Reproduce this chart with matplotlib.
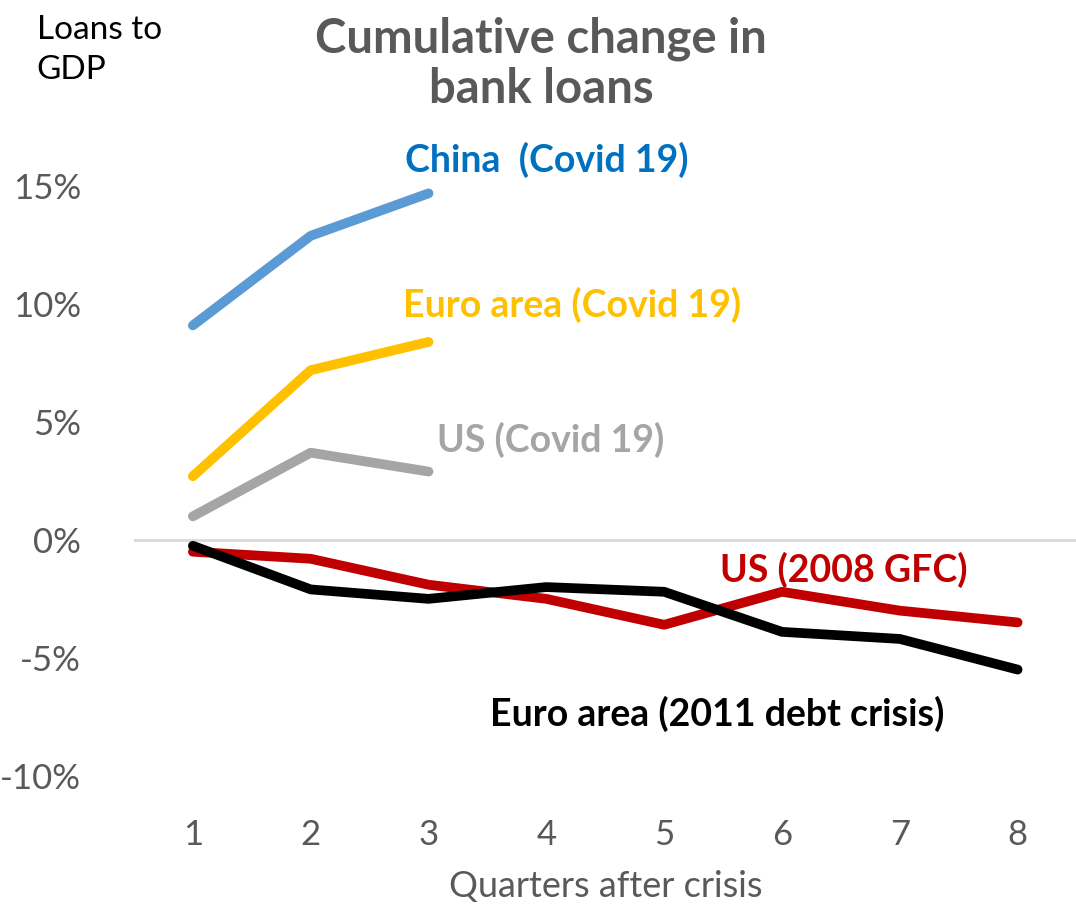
import matplotlib.pyplot as plt

plt.rcParams['font.family'] = ['Lato', 'DejaVu Sans']

quarters = [1, 2, 3, 4, 5, 6, 7, 8]
china_covid = [9.1, 12.9, 14.7]
euro_covid = [2.7, 7.2, 8.4]
us_covid = [1.0, 3.7, 2.9]
us_gfc = [-0.5, -0.8, -1.9, -2.5, -3.6, -2.2, -3.0, -3.5]
euro_2011 = [-0.25, -2.1, -2.5, -2.0, -2.2, -3.9, -4.2, -5.5]
yticks = [-10, -5, 0, 5, 10, 15]

fig = plt.figure(figsize=(10.76, 9.08), dpi=100)
ax = fig.add_axes([0.1245, 0.1068, 0.876, 0.701])

lw = 7
ax.plot(quarters[:3], china_covid, color='#5B9BD5', lw=lw, solid_capstyle='round')
ax.plot(quarters[:3], euro_covid, color='#FFC000', lw=lw, solid_capstyle='round')
ax.plot(quarters[:3], us_covid, color='#A5A5A5', lw=lw, solid_capstyle='round')
ax.plot(quarters, us_gfc, color='#C00000', lw=lw, solid_capstyle='round')
ax.plot(quarters, euro_2011, color='black', lw=lw, solid_capstyle='round')
ax.axhline(0, color='#D9D9D9', lw=2, zorder=0)

ax.set_xlim(0.5, 8.5)
ax.set_ylim(-11.5, 15.5)
ax.set_yticks(yticks)
ax.set_yticklabels([f'{v}%' for v in yticks])
ax.set_xticks(quarters)
for s in ax.spines.values():
    s.set_visible(False)
ax.tick_params(length=0, labelsize=25, labelcolor='#595959')
ax.tick_params(axis='y', pad=38)
ax.tick_params(axis='x', pad=6)

# series labels sit next to the lines, as in the original
lab = dict(fontsize=27, fontweight='bold', ha='left', va='center')
ax.text(2.80, 16.1, 'China  (Covid 19)', color='#0070C0', **lab)
ax.text(2.78, 9.96, 'Euro area (Covid 19)', color='#FFC000', **lab)
ax.text(3.07, 4.24, 'US (Covid 19)', color='#A5A5A5', **lab)
ax.text(5.47, -1.27, 'US (2008 GFC)', color='#C00000', **lab)
ax.text(3.52, -7.4, 'Euro area (2011 debt crisis)', color='black', **lab)

fig.text(0.503, 0.93, 'Cumulative change in\nbank loans', ha='center', va='center',
         fontsize=34, fontweight='bold', color='#595959', linespacing=1.15)
fig.text(0.034, 0.945, 'Loans to\nGDP', ha='left', va='center', fontsize=24,
         color='black', linespacing=1.45)
fig.text(0.563, 0.024, 'Quarters after crisis', ha='center', va='center',
         fontsize=26, color='#595959')

fig.savefig('out.png', dpi=100)
